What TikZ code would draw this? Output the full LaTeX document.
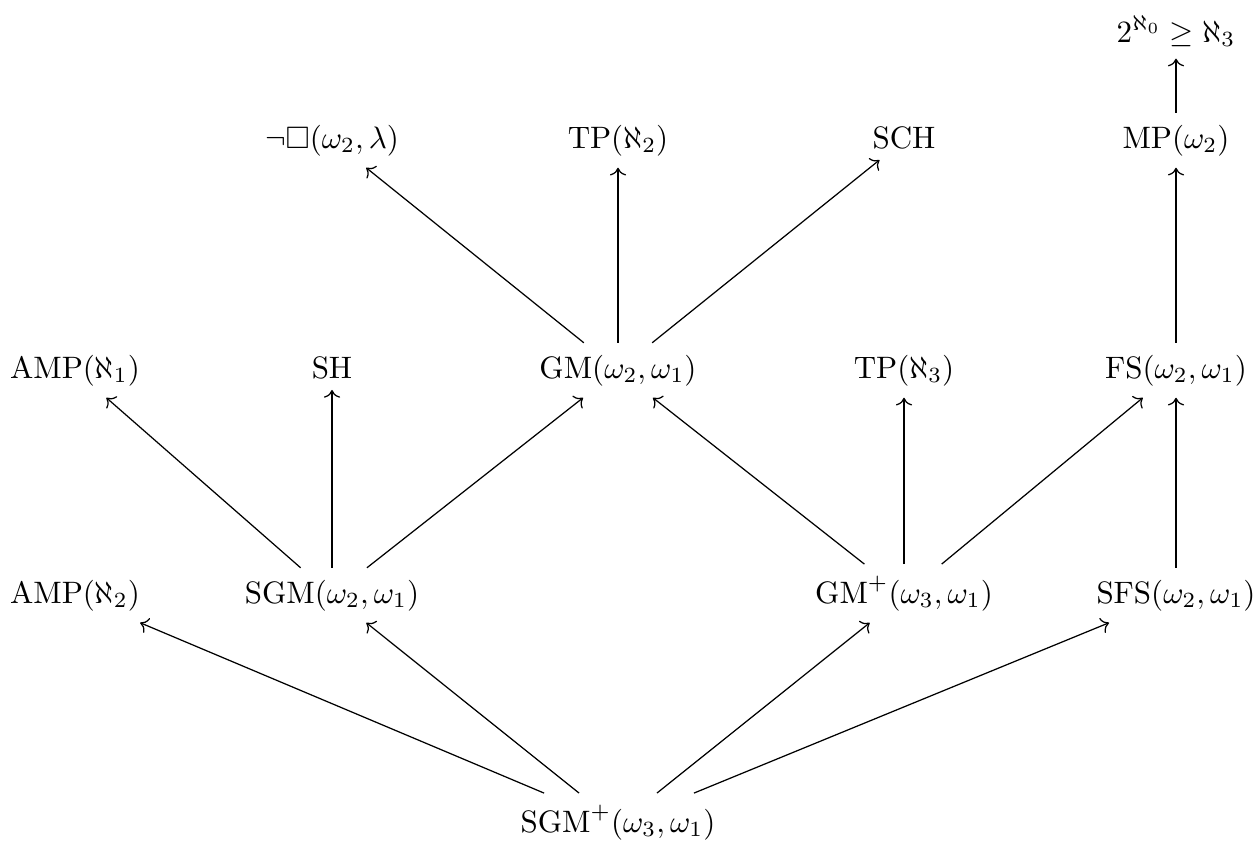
\documentclass[tikz,border=0pt]{standalone}
\usepackage{amssymb}
\usetikzlibrary{arrows.meta,cd}
\begin{document}
\begin{tikzpicture}[x=0.3226pt,y=-0.3226pt,
  cell/.style={shape=asymmetrical rectangle, anchor=base, inner xsep=1ex, inner ysep=0.85ex},
  imp/.style={-{Computer Modern Rightarrow}, line width=0.4pt}]
\useasboundingbox (0,0) rectangle (1254,843);
% row 0
\node[cell] (top) at (1176,42) {$2^{\aleph_0}\geq\aleph_3$};
% row 1
\node[cell] (box) at (332,148) {$\neg\Box(\omega_2,\lambda)$};
\node[cell] (tp2) at (618,148) {$\mathrm{TP}(\aleph_2)$};
\node[cell] (sch) at (904,148) {$\mathrm{SCH}$};
\node[cell] (mp) at (1176,148) {$\mathrm{MP}(\omega_2)$};
% row 2
\node[cell] (amp1) at (75,378) {$\mathrm{AMP}(\aleph_1)$};
\node[cell] (sh) at (332,378) {$\mathrm{SH}$};
\node[cell] (gm) at (618,378) {$\mathrm{GM}(\omega_2,\omega_1)$};
\node[cell] (tp3) at (904,378) {$\mathrm{TP}(\aleph_3)$};
\node[cell] (fs) at (1176,378) {$\mathrm{FS}(\omega_2,\omega_1)$};
% row 3
\node[cell] (amp2) at (75,603) {$\mathrm{AMP}(\aleph_2)$};
\node[cell] (sgm) at (332,603) {$\mathrm{SGM}(\omega_2,\omega_1)$};
\node[cell] (gmp) at (904,603) {$\mathrm{GM}^+(\omega_3,\omega_1)$};
\node[cell] (sfs) at (1176,603) {$\mathrm{SFS}(\omega_2,\omega_1)$};
% row 4
\node[cell] (sgmp) at (618,832) {$\mathrm{SGM}^+(\omega_3,\omega_1)$};
% arrows
\draw[imp] (sgmp) -- (amp2);
\draw[imp] (sgmp) -- (sgm);
\draw[imp] (sgmp) -- (gmp);
\draw[imp] (sgmp) -- (sfs);
\draw[imp] (sgm) -- (amp1);
\draw[imp] (sgm) -- (sh);
\draw[imp] (sgm) -- (gm);
\draw[imp] (gmp) -- (gm);
\draw[imp] (gmp) -- (tp3);
\draw[imp] (gmp) -- (fs);
\draw[imp] (sfs) -- (fs);
\draw[imp] (gm) -- (box);
\draw[imp] (gm) -- (tp2);
\draw[imp] (gm) -- (sch);
\draw[imp] (fs) -- (mp);
\draw[imp] (mp) -- (top);
\end{tikzpicture}
\end{document}
